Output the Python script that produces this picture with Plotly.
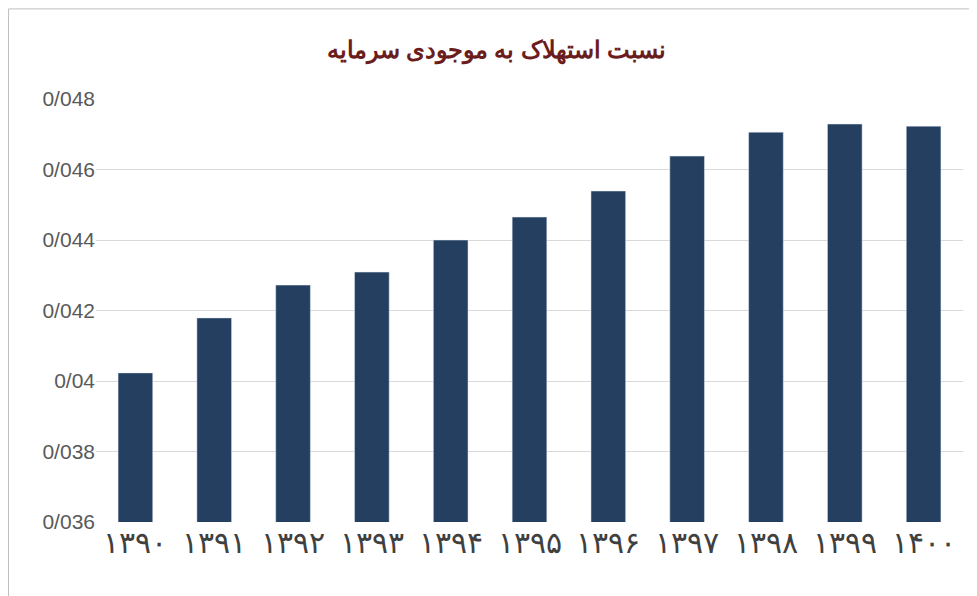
import plotly.graph_objects as go

years = ["۱۳۹۰", "۱۳۹۱", "۱۳۹۲", "۱۳۹۳", "۱۳۹۴", "۱۳۹۵", "۱۳۹۶", "۱۳۹۷", "۱۳۹۸", "۱۳۹۹", "۱۴۰۰"]
ratio = [0.04023, 0.04179, 0.04272, 0.04309, 0.0440, 0.04465, 0.04539, 0.04638, 0.04706, 0.04729, 0.04723]
tick_vals = [0.036, 0.038, 0.040, 0.042, 0.044, 0.046, 0.048]
tick_text = ["0/036", "0/038", "0/04", "0/042", "0/044", "0/046", "0/048"]

fig = go.Figure(go.Bar(x=years, y=ratio, marker_color="#243f60", width=0.44))

fig.update_layout(
    width=977, height=596,
    margin=dict(l=88, r=22, t=91, b=82),
    paper_bgcolor="white", plot_bgcolor="white",
    title=dict(text="<b>نسبت استهلاک به موجودی سرمایه</b>", x=0.5, y=0.93, yanchor="middle",
               font=dict(family="Noto Sans", size=24, color="#6b1c1c")),
    showlegend=False,
)
fig.update_xaxes(tickfont=dict(family="Noto Sans", size=30, color="#404040"),
                 showline=False, ticks="")
fig.update_yaxes(range=[0.036, 0.048], tickvals=tick_vals, ticktext=tick_text,
                 tickfont=dict(family="Liberation Sans", size=21, color="#595959"),
                 gridcolor="#d9d9d9", zeroline=False, ticklen=0)
fig.add_shape(type="rect", xref="paper", yref="paper",
              x0=-0.1009, x1=1.0248, y0=-0.192, y1=1.213,
              line=dict(color="#bfbfbf", width=1))

fig.write_html("out.html")
